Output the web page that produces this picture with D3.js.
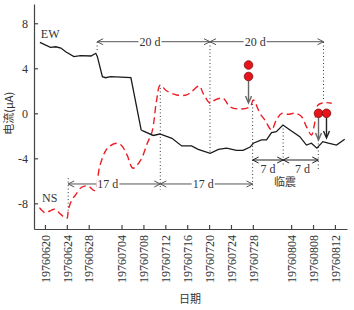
<!DOCTYPE html>
<html>
<head>
<meta charset="utf-8">
<script src="https://cdn.jsdelivr.net/npm/d3@7"></script>
<style>
  body { margin: 0; background: #fff; }
  svg { display: block; font-family: "Liberation Serif", "DejaVu Serif", serif; }
  .cjk { font-family: "Noto Sans CJK SC", sans-serif; }
</style>
</head>
<body>
<div id="chart"></div>
<script>
// days counted from 1976-06-20
const baseDate = new Date(1976, 5, 20);
const tickLabels = ["19760620", "19760624", "19760628", "19760704", "19760708", "19760712",
  "19760716", "19760720", "19760724", "19760728", "19760804", "19760808", "19760812"];
const yTicks = [-8, -4, 0, 4, 8];

const ewDays = [-0.9, 1.0, 2.0, 2.9, 3.8, 5.3, 6.5, 8.4, 9.3, 9.6, 10.5, 11.1, 12.0, 15.7,
  17.6, 17.9, 19.8, 21.0, 23.2, 25.0, 26.8, 28.0, 30.2, 31.7, 33.2, 35.0, 36.2, 37.5, 38.1,
  39.6, 40.5, 41.4, 42.3, 43.5, 44.8, 46.6, 47.8, 48.7, 49.7, 50.8, 51.8, 53.3, 54.8];
const ewValues = [6.3, 5.86, 5.91, 5.8, 5.47, 5.03, 5.12, 5.09, 5.33, 5.03, 3.25, 3.16, 3.25, 3.16,
  -1.48, -1.57, -1.97, -1.84, -2.22, -2.9, -2.9, -3.2, -3.55, -3.2, -3.1, -3.3, -3.3, -3.0, -2.66,
  -2.37, -2.37, -1.72, -1.63, -1.04, -1.48, -2.08, -2.82, -2.66, -3.1, -2.52, -2.66, -2.82, -2.3];

const nsDays = [-1.0, 0, 0.9, 1.8, 3.0, 4.0, 4.3, 4.9, 5.6, 6.7, 7.9, 9.1, 10.0, 11.0, 11.7,
  13.0, 13.9, 15.0, 16.1, 17.5, 18.7, 19.6, 20.4, 21.1, 22.2, 24.1, 25.9, 26.8, 28.2, 28.9,
  30.2, 31.1, 32.6, 33.8, 35.6, 37.5, 38.1, 39.3, 40.2, 41.4, 42.3, 43.3, 44.5, 45.7, 46.9,
  47.8, 48.7, 49.3, 49.9, 51.2, 52.4];
const nsValues = [-8.38, -8.83, -8.68, -8.53, -9.03, -9.33, -8.53, -7.7, -7.26, -6.57, -6.46,
  -6.87, -4.74, -3.41, -2.97, -2.66, -2.82, -3.7, -4.88, -4.15, -2.66, -1.63, 1.18, 2.51, 2.0,
  1.63, 1.63, 1.92, 2.42, 1.78, 0.89, 1.18, 1.33, 0.59, 0.38, 0.59, 1.18, 0, -0.6, -1.48, -0.6,
  0, -0.09, 0, -0.3, -1.19, -1.93, -0.89, 0.74, 0.94, 0.89];

// interval arrows
const spanFrom = [9.56, 30.15, 4.26, 21.1, 37.96, 43.55];
const spanTo = [30.15, 50.9, 21.1, 37.96, 43.55, 49.95];
const spanLevel = [6.36, 6.36, -6.28, -6.28, -4.15, -4.15];
const spanLabels = ["20 d", "20 d", "17 d", "17 d", "7 d", "7 d"];
const spanLabelDay = [19.2, 38.4, 11.5, 28.9, 40.75, 47.1];

// dotted guide lines
const guideDays = [9.56, 4.26, 21.1, 30.15, 37.96, 43.55, 49.95, 50.9];
const guideTop = [6.33, -5.76, 2.25, 6.33, 0.83, -1.04, -2.37, 6.33];
const guideBottom = [5.44, -8.78, -6.81, -3.53, -6.81, -4.59, -5.04, 1.18];

// earthquakes
const quakeDays = [37.2, 50.0, 51.45];
const quakeDots = [[4.29, 3.27], [0], [0]];
const quakeArrowEnd = [0.91, -2.37, -2.2];

const width = 354, height = 310;
const toDate = (d) => d3.timeHour.offset(baseDate, Math.round(d * 24));

const x = d3.scaleTime()
  .domain([toDate(-2.01), toDate(55.2)])
  .range([34, 347]);
const y = d3.scaleLinear()
  .domain([-10.28, 9.71])
  .range([229, 4]);

const svg = d3.select("#chart").append("svg")
  .attr("width", width)
  .attr("height", height);

// axes
const parseDay = d3.timeParse("%Y%m%d");
const xAxis = svg.append("g")
  .attr("transform", `translate(0,${y.range()[0]})`)
  .call(d3.axisBottom(x)
    .tickValues(tickLabels.map(parseDay))
    .tickFormat(d3.timeFormat("%Y%m%d"))
    .tickSizeInner(-4)
    .tickSizeOuter(0));
xAxis.selectAll("text")
  .attr("transform", "rotate(-90)")
  .attr("text-anchor", "end")
  .attr("x", -6)
  .attr("y", 0)
  .attr("dy", "0.35em")
  .attr("font-size", 12)
  .attr("font-family", "Liberation Serif")
  .attr("fill", "#333");

const yAxis = svg.append("g")
  .attr("transform", `translate(${x.range()[0]},0)`)
  .call(d3.axisLeft(y)
    .tickValues(yTicks)
    .tickFormat((d) => String(d))
    .tickSizeInner(-4)
    .tickSizeOuter(0)
    .tickPadding(6));
yAxis.selectAll("text")
  .attr("font-size", 12)
  .attr("font-family", "Liberation Serif")
  .attr("fill", "#333");

[xAxis, yAxis].forEach((g) => {
  g.select(".domain").attr("stroke", "#444").attr("stroke-width", 1.2);
  g.selectAll(".tick line").attr("stroke", "#444").attr("stroke-width", 1.2);
});

svg.append("text")
  .attr("class", "cjk")
  .attr("x", 190)
  .attr("y", 303)
  .attr("text-anchor", "middle")
  .attr("font-size", 11)
  .attr("fill", "#333")
  .text("日期");

svg.append("text")
  .attr("class", "cjk")
  .attr("transform", `translate(13,${y(0)}) rotate(-90)`)
  .attr("text-anchor", "middle")
  .attr("font-size", 11)
  .attr("fill", "#333")
  .text("电流(μA)");

// guide lines
guideDays.forEach((d, i) => {
  svg.append("line")
    .attr("x1", x(toDate(d)))
    .attr("x2", x(toDate(d)))
    .attr("y1", y(guideTop[i]))
    .attr("y2", y(guideBottom[i]))
    .attr("stroke", "#333")
    .attr("stroke-width", 1)
    .attr("stroke-dasharray", "1,2.5");
});

// series
const line = d3.line()
  .x((d) => x(toDate(d[0])))
  .y((d) => y(d[1]));

svg.append("path")
  .datum(nsDays.map((d, i) => [d, nsValues[i]]))
  .attr("d", line.curve(d3.curveCatmullRom.alpha(0.5)))
  .attr("fill", "none")
  .attr("stroke", "#ee1c25")
  .attr("stroke-width", 1.4)
  .attr("stroke-dasharray", "7,4");

svg.append("path")
  .datum(ewDays.map((d, i) => [d, ewValues[i]]))
  .attr("d", line.curve(d3.curveLinear))
  .attr("fill", "none")
  .attr("stroke", "#1a1a1a")
  .attr("stroke-width", 1.3);

svg.append("text")
  .attr("x", x(toDate(-0.73)))
  .attr("y", y(6.69))
  .attr("font-size", 12)
  .attr("fill", "#333")
  .text("EW");

svg.append("text")
  .attr("x", x(toDate(-0.55)))
  .attr("y", y(-7.88))
  .attr("font-size", 12)
  .attr("fill", "#333")
  .text("NS");

// interval arrows
const chevron = (px, py, dir) =>
  `M${px + dir * 6},${py - 3}L${px},${py}L${px + dir * 6},${py + 3}`;

spanFrom.forEach((d, i) => {
  const x1 = x(toDate(d)), x2 = x(toDate(spanTo[i])), yy = y(spanLevel[i]);
  const below = i >= 4;
  const col = below ? "#222" : "#555";
  svg.append("line")
    .attr("x1", x1).attr("x2", x2)
    .attr("y1", yy).attr("y2", yy)
    .attr("stroke", col)
    .attr("stroke-width", 1);
  svg.append("path")
    .attr("d", chevron(x1, yy, 1) + chevron(x2, yy, -1))
    .attr("fill", "none")
    .attr("stroke", col)
    .attr("stroke-width", 1);
  const bg = svg.append("rect").attr("fill", "#fff");
  const label = svg.append("text")
    .attr("x", x(toDate(spanLabelDay[i])))
    .attr("y", below ? yy + 13 : yy)
    .attr("dy", below ? 0 : "0.35em")
    .attr("text-anchor", "middle")
    .attr("font-size", 12)
    .attr("fill", "#333")
    .text(spanLabels[i]);
  if (!below) {
    const b = label.node().getBBox();
    bg.attr("x", b.x - 1).attr("y", b.y + 2)
      .attr("width", b.width + 2).attr("height", b.height - 4);
  } else {
    bg.remove();
  }
});

svg.append("text")
  .attr("class", "cjk")
  .attr("x", x(toDate(43.86)))
  .attr("y", y(-6.46))
  .attr("text-anchor", "middle")
  .attr("font-size", 11)
  .attr("fill", "#333")
  .text("临震");

// earthquakes
quakeDays.forEach((d, i) => {
  const qx = x(toDate(d));
  const dots = quakeDots[i];
  const low = y(dots[dots.length - 1]) + 4;
  const tip = y(quakeArrowEnd[i]);
  const col = i === 2 ? "#222" : "#666";
  svg.append("line")
    .attr("x1", qx).attr("x2", qx)
    .attr("y1", low).attr("y2", tip - 1)
    .attr("stroke", col)
    .attr("stroke-width", 1.4);
  svg.append("path")
    .attr("d", `M${qx - 3},${tip - 7}L${qx},${tip}L${qx + 3},${tip - 7}`)
    .attr("fill", "none")
    .attr("stroke", col)
    .attr("stroke-width", 1.4);
  dots.forEach((v) => {
    svg.append("circle")
      .attr("cx", qx)
      .attr("cy", y(v))
      .attr("r", 4.3)
      .attr("fill", "#e8141c")
      .attr("stroke", "#7a1010")
      .attr("stroke-width", 0.8);
  });
});
</script>
</body>
</html>
